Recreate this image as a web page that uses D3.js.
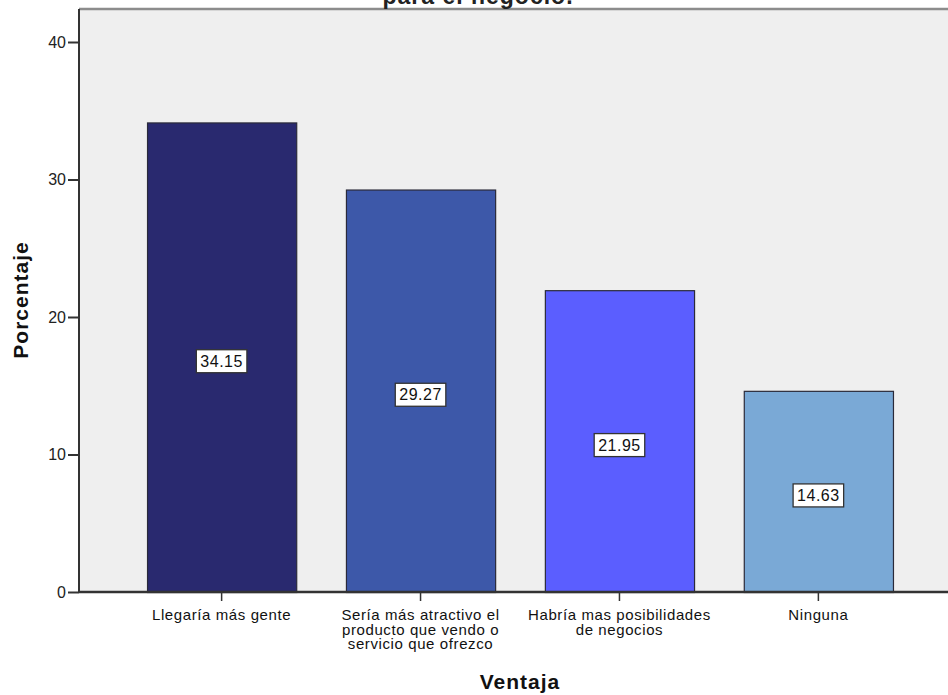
<!DOCTYPE html>
<html><head><meta charset="utf-8">
<script src="https://cdn.jsdelivr.net/npm/d3@7"></script>
<style>body{margin:0;background:#fff;} text{font-family:"Liberation Sans",Arial,sans-serif;}</style>
</head><body>
<svg id="c" width="948" height="695"></svg>
<script>
const categories = [["Llegaría más gente"],["Sería más atractivo el","producto que vendo o","servicio que ofrezco"],["Habría mas posibilidades","de negocios"],["Ninguna"]];
const values = [34.15, 29.27, 21.95, 14.63];
const labels = ["34.15","29.27","21.95","14.63"];
const colors = ["#29296f","#3d58a9","#5b5eff","#7aa9d6"];
const yTicks = [0,10,20,30,40];

(function(){
const svg = d3.select("#c");
const pL = 79, pR = 961, pT = 9, pB = 592;
const x = d3.scaleBand().domain(d3.range(values.length)).range([pL, pR]).paddingInner(0.25).paddingOuter(0.342);
const y = d3.scaleLinear().domain([0, 40]).range([pB, 42]);

// plot background
svg.append("rect").attr("x", pL).attr("y", pT).attr("width", pR-pL).attr("height", pB-pT).attr("fill","#efefef");
svg.append("line").attr("x1", pL).attr("x2", pR).attr("y1", pT).attr("y2", pT).attr("stroke","#8c8c8c").attr("stroke-width",2.5);

// title (cut off at the top edge, as in the reference)
svg.append("text").attr("x", 478).attr("y", 4).attr("text-anchor","middle")
  .attr("font-size", 23).attr("font-weight","bold").attr("letter-spacing",1).attr("fill","#222").text("para el negocio.");

// bars
svg.selectAll("rect.bar").data(values).join("rect").attr("class","bar")
  .attr("x",(d,i)=>x(i)+0.5).attr("y",d=>y(d)+0.5).attr("width",x.bandwidth()).attr("height",d=>pB-y(d))
  .attr("fill",(d,i)=>colors[i]).attr("stroke","#2a2a3a").attr("stroke-width",1.2);

// value labels
values.forEach((d,i)=>{
  const cx = x(i)+x.bandwidth()/2, cy = (y(d)+pB)/2 + 4;
  const g = svg.append("g");
  const t = g.append("text").attr("x",cx).attr("y",cy+5.5).attr("text-anchor","middle")
    .attr("font-size",16).attr("letter-spacing",0.5).attr("fill","#111").text(labels[i]);
  const bb = t.node().getBBox();
  g.insert("rect","text").attr("x",cx-bb.width/2-4).attr("y",cy-11.5).attr("width",bb.width+8).attr("height",23)
    .attr("fill","#fff").attr("stroke","#333").attr("stroke-width",1.3);
});

// y axis
const ya = svg.append("g").attr("transform",`translate(${pL},0)`)
  .call(d3.axisLeft(y).tickValues(yTicks).tickSize(11).tickPadding(2));
ya.select(".domain").attr("stroke","#333").attr("stroke-width",2).attr("d",`M0,${pT}V${pB}`);
ya.selectAll(".tick line").attr("stroke","#333").attr("stroke-width",2);
ya.selectAll(".tick text").attr("font-size",16).attr("fill","#222").attr("font-family","Liberation Sans, Arial, sans-serif");

// x axis
const xa = svg.append("g").attr("transform",`translate(0,${pB})`)
  .call(d3.axisBottom(x).tickSize(9).tickFormat(""));
xa.select(".domain").attr("stroke","#333").attr("stroke-width",2.5).attr("d",`M${pL},0H${pR}`);
xa.selectAll(".tick line").attr("stroke","#333").attr("stroke-width",1.5);
categories.forEach((lines,i)=>{
  const t = svg.append("text").attr("x",x(i)+x.bandwidth()/2).attr("y",620).attr("text-anchor","middle")
    .attr("font-size",15).attr("letter-spacing",0.6).attr("fill","#111");
  lines.forEach((l,k)=>t.append("tspan").attr("x",x(i)+x.bandwidth()/2).attr("dy",k?14.6:0).text(l));
});

// axis titles
svg.append("text").attr("x",(pL+pR)/2).attr("y",689).attr("text-anchor","middle").attr("font-size",21).attr("letter-spacing",1).attr("font-weight","bold").attr("fill","#111").text("Ventaja");
svg.append("text").attr("transform","translate(28,300) rotate(-90)").attr("text-anchor","middle").attr("font-size",21).attr("letter-spacing",1).attr("font-weight","bold").attr("fill","#111").text("Porcentaje");
})();
</script>
</body></html>
